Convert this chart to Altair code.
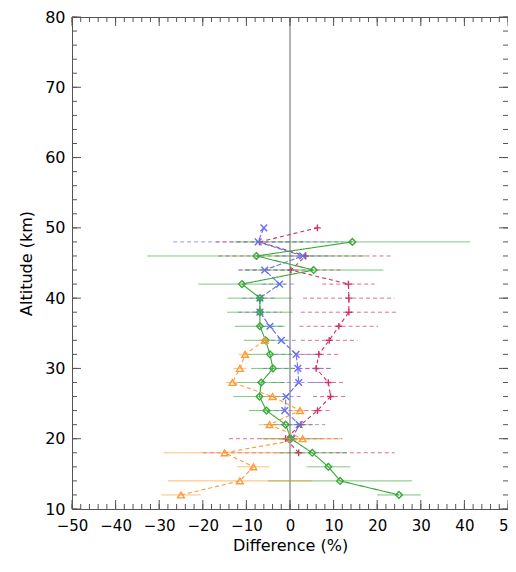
import altair as alt
import pandas as pd

# ---- data ----
pink_alt = [50, 48, 46, 44, 42, 40, 38, 36, 34, 32, 30, 28, 26, 24, 22, 20, 18]
pink_val = [6.3, -7.0, 3.6, 0.2, 13.4, 13.5, 13.5, 11.2, 9.0, 6.6, 6.0, 8.8, 9.3, 6.3, 2.5, -1.0, 2.0]
pink_err = [0, 10, 20, 12, 6, 10.5, 11, 9, 6.5, 4.5, 4, 4, 4, 3, 3, 13, 22]

blue_alt = [50, 48, 46, 44, 42, 40, 38, 36, 34, 32, 30, 28, 26, 24, 22, 20]
blue_val = [-6.0, -7.3, 2.9, -5.8, -2.4, -6.9, -6.9, -4.6, -2.0, 1.4, 1.8, 2.0, -0.9, -1.2, 2.1, 0.5]
blue_err = [0, 19.5, 6, 6, 4, 4, 5, 3, 4, 5, 8, 6, 4, 4, 6, 3]

green_alt = [48, 46, 44, 42, 40, 38, 36, 34, 32, 30, 28, 26, 24, 22, 20, 18, 16, 14, 12]
green_val = [14.3, -7.7, 5.4, -11.0, -6.9, -6.9, -6.9, -5.6, -4.6, -3.9, -6.6, -7.0, -5.4, -1.0, 0.2, 5.1, 8.8, 11.5, 25.0]
green_err = [27, 25, 16, 10, 7.4, 7.5, 5.7, 5, 5, 5, 5.5, 6, 4, 5, 7, 8, 5, 16.5, 5]

orange_alt = [34, 32, 30, 28, 26, 24, 22, 20, 18, 16, 14, 12]
orange_val = [-5.8, -10.3, -11.5, -13.2, -4.0, 2.3, -4.7, 2.9, -15.0, -8.4, -11.5, -25.0]
orange_err = [1.5, 1.5, 1.5, 1.5, 2, 2, 2.5, 9, 14, 3.7, 16.5, 4.5]

x_major = list(range(-50, 51, 10))
x_minor = list(range(-50, 51, 2))
y_major = list(range(10, 81, 10))
y_minor = list(range(10, 81, 2))

W, H = 436, 492
FONT = "DejaVu Sans"
AXC = "#555555"

xscale = alt.Scale(domain=[-50, 50], nice=False, zero=False)
yscale = alt.Scale(domain=[10, 80], nice=False, zero=False)
xaxis = alt.Axis(values=x_major, ticks=False, grid=False, domain=False,
                 labelFlush=False, labelOverlap=False, labelFontSize=15,
                 labelPadding=9, title="Difference (%)", titlePadding=4)
yaxis = alt.Axis(values=y_major, ticks=False, grid=False, domain=False,
                 labelFlush=False, labelOverlap=False, labelFontSize=16,
                 labelPadding=7, title="Altitude (km)", titlePadding=10)


def xenc(f):
    return alt.X(f"{f}:Q", scale=xscale, axis=xaxis)


def yenc(f):
    return alt.Y(f"{f}:Q", scale=yscale, axis=yaxis)


PLUS = "M-1,0L1,0M0,-1L0,1"
XSYM = "M-1,-1L1,1M-1,1L1,-1"

series = [
    dict(a=pink_alt, v=pink_val, e=pink_err, color="#d0306a", shape=PLUS, filled=False,
         line_dash=[4, 3], bar_dash=[4, 3], size=45),
    dict(a=blue_alt, v=blue_val, e=blue_err, color="#6a6aff", shape=XSYM, filled=False,
         line_dash=[5, 2], bar_dash=[4, 3], size=45),
    dict(a=green_alt, v=green_val, e=green_err, color="#38a838", shape="diamond", filled=False,
         line_dash=[1, 0], bar_dash=[1, 0], size=45),
    dict(a=orange_alt, v=orange_val, e=orange_err, color="#ff9a35", shape="triangle-up", filled=False,
         line_dash=[4, 3], bar_dash=[1, 0], size=45),
]

layers = []

# zero line
zero_df = pd.DataFrame({"v": [0]})
layers.append(
    alt.Chart(zero_df).mark_rule(color="#999999", strokeWidth=1.5).encode(x=xenc("v"))
)

for s in series:
    df = pd.DataFrame({"alt": s["a"], "val": s["v"], "err": s["e"]})
    df["lo"] = df["val"] - df["err"]
    df["hi"] = df["val"] + df["err"]
    dfe = df[df["err"] > 0]
    layers.append(
        alt.Chart(dfe).mark_rule(color=s["color"], strokeWidth=1, opacity=0.7,
                                 strokeDash=s["bar_dash"]).encode(
            x=xenc("lo"), x2=alt.X2("hi"), y=yenc("alt"))
    )
    layers.append(
        alt.Chart(df).mark_line(color=s["color"], strokeWidth=1.1,
                                strokeDash=s["line_dash"]).encode(
            x=xenc("val"), y=yenc("alt"), order=alt.Order("alt:Q"))
    )
    layers.append(
        alt.Chart(df).mark_point(color=s["color"], shape=s["shape"], filled=s["filled"],
                                 size=s["size"], strokeWidth=1.4, opacity=1).encode(
            x=xenc("val"), y=yenc("alt"))
    )

# inward ticks on all four sides
xmaj = pd.DataFrame({"v": x_major})
xmin = pd.DataFrame({"v": x_minor})
ymaj = pd.DataFrame({"v": y_major})
ymin = pd.DataFrame({"v": y_minor})
TM, Tm = 9, 5
tick = dict(color=AXC, strokeWidth=1)
layers += [
    alt.Chart(xmaj).mark_rule(**tick).encode(x=xenc("v"), y=alt.value(H), y2=alt.value(H - TM)),
    alt.Chart(xmin).mark_rule(**tick).encode(x=xenc("v"), y=alt.value(H), y2=alt.value(H - Tm)),
    alt.Chart(xmaj).mark_rule(**tick).encode(x=xenc("v"), y=alt.value(0), y2=alt.value(TM)),
    alt.Chart(xmin).mark_rule(**tick).encode(x=xenc("v"), y=alt.value(0), y2=alt.value(Tm)),
    alt.Chart(ymaj).mark_rule(**tick).encode(y=yenc("v"), x=alt.value(0), x2=alt.value(TM)),
    alt.Chart(ymin).mark_rule(**tick).encode(y=yenc("v"), x=alt.value(0), x2=alt.value(Tm)),
    alt.Chart(ymaj).mark_rule(**tick).encode(y=yenc("v"), x=alt.value(W), x2=alt.value(W - TM)),
    alt.Chart(ymin).mark_rule(**tick).encode(y=yenc("v"), x=alt.value(W), x2=alt.value(W - Tm)),
]

chart = alt.layer(*layers).properties(
    width=W, height=H,
    autosize=alt.AutoSizeParams(type="none"),
    padding={"left": 64, "top": 9, "right": 0, "bottom": 49},
).configure_view(
    stroke=AXC, strokeWidth=1
).configure_axis(
    labelFont=FONT, labelColor="black",
    titleFont=FONT, titleFontSize=16, titleFontWeight="normal", titleColor="black",
)

chart.save("out.html", embed_options={"renderer": "svg", "actions": False})
